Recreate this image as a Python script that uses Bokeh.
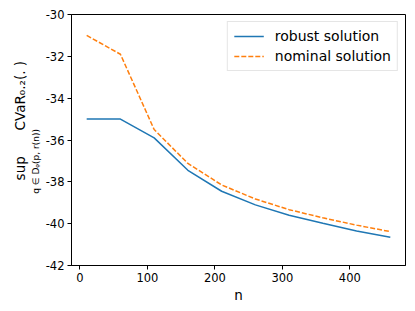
from bokeh.plotting import figure
from bokeh.models import Range1d, FixedTicker, Legend, LegendItem, LinearAxis
from bokeh.embed import file_html
from bokeh.resources import INLINE

# ---- data ----
n_values = [10, 60, 110, 160, 210, 260, 310, 360, 410, 460]
robust = [-35.0, -35.0, -35.9, -37.45, -38.45, -39.1, -39.6, -39.98, -40.35, -40.65]
nominal = [-31.0, -31.9, -35.5, -37.12, -38.15, -38.82, -39.33, -39.72, -40.07, -40.38]
x_ticks = [0, 100, 200, 300, 400]
y_ticks = [-42, -40, -38, -36, -34, -32, -30]
series_names = ["robust solution", "nominal solution"]
x_label = "n"
y_label_main = "sup" + "\u00a0" * 6 + "CVaR₀.₂(. )"
y_label_sub = "q ∈ Dᵩ(p, r(n))"

FONT = "DejaVu Sans"
NB = "\u00a0"

p = figure(width=415, height=311, output_backend="svg", toolbar_location=None,
           x_range=Range1d(-12.5, 482.5), y_range=Range1d(-42, -30))
p.min_border_left = 71
p.min_border_right = 10
p.min_border_top = 14
p.min_border_bottom = 46
p.background_fill_color = "white"
p.border_fill_color = "white"
p.outline_line_color = "black"
p.outline_line_width = 1
p.grid.visible = False

for ax in (p.xaxis[0], p.yaxis[0]):
    ax.axis_line_color = "black"
    ax.major_tick_line_color = "black"
    ax.minor_tick_line_color = None
    ax.major_tick_out = 4
    ax.major_tick_in = 0
    ax.major_label_text_font = FONT
    ax.major_label_text_font_size = "11.5px"
    ax.major_label_text_color = "black"
    ax.major_label_standoff = 3
    ax.axis_label_text_color = "black"

p.xaxis.ticker = FixedTicker(ticks=x_ticks)
p.yaxis.ticker = FixedTicker(ticks=y_ticks)
p.yaxis.major_label_overrides = {t: str(t) for t in y_ticks}
p.xaxis.axis_label = x_label
p.xaxis.axis_label_text_font = FONT
p.xaxis.axis_label_text_font_size = "13.5px"
p.xaxis.axis_label_text_font_style = "normal"
p.xaxis.axis_label_standoff = 2

# inner y label: the subscript of sup (shifted down with trailing spaces)
yax = p.yaxis[0]
yax.axis_label = y_label_sub + NB * 15
yax.axis_label_text_font = FONT
yax.axis_label_text_font_size = "9px"
yax.axis_label_text_font_style = "normal"
yax.axis_label_standoff = 2

# outer y label: sup ... CVaR_0.2(. )
ax2 = LinearAxis(ticker=FixedTicker(ticks=[]), axis_line_color=None,
                 major_tick_line_color=None, minor_tick_line_color=None,
                 major_tick_out=0, major_tick_in=0, major_label_standoff=0,
                 axis_label=NB * 9 + y_label_main, axis_label_text_font=FONT,
                 axis_label_text_font_size="13.5px", axis_label_text_font_style="normal",
                 axis_label_text_color="black", axis_label_standoff=0)
p.add_layout(ax2, "left")

r1 = p.line(n_values, robust, line_color="#1f77b4", line_width=1.5)
r2 = p.line(n_values, nominal, line_color="#ff7f0e", line_width=1.5, line_dash="5 2")

legend = Legend(items=[LegendItem(label=series_names[0], renderers=[r1]),
                       LegendItem(label=series_names[1], renderers=[r2])],
                location="top_right")
legend.margin = 7
legend.padding = 6
legend.spacing = 4
legend.glyph_width = 30
legend.glyph_height = 16
legend.label_height = 16
legend.label_standoff = 11
legend.label_text_font = FONT
legend.label_text_font_size = "14px"
legend.label_text_color = "black"
legend.border_line_color = "#cccccc"
legend.border_line_width = 1
legend.background_fill_alpha = 0.8
p.add_layout(legend)

open("out.html", "w").write(file_html(p, INLINE))
